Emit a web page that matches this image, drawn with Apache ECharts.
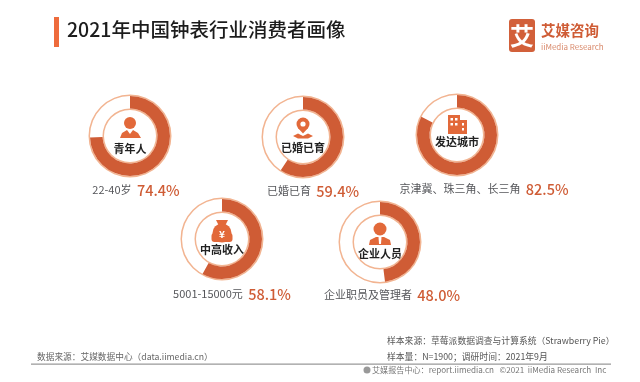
<!DOCTYPE html>
<html><head><meta charset="utf-8">
<script src="https://cdn.jsdelivr.net/npm/echarts@6/dist/echarts.min.js"></script>
<style>html,body{margin:0;padding:0;background:#fff}#c{width:640px;height:382px;filter:blur(0.45px)}</style>
</head><body><div id="c"></div>
<script>
const centerLabels = ['青年人','已婚已育','发达城市','中高收入','企业人员'];
const subLabels = ['22-40岁','已婚已育','京津冀、珠三角、长三角','5001-15000元','企业职员及管理者'];
const shares = [74.4,59.4,82.5,58.1,48.0];
const titleText = '2021年中国钟表行业消费者画像';

const centers = [[130,136],[303,137],[457,135],[222,239],[380,242]];
const centerLabelY = [149,148,142,250,254];
const subPos = [[136,190],[313,191],[484,189],[232,294],[392,295]];
const DARK='#cf5c35', ICON='#e2693a', LIGHT='#f2b491', FONT='"Noto Sans CJK SC","Noto Sans",sans-serif';

const series=[];
shares.forEach((v,i)=>{
  const base={type:'pie',center:centers[i],silent:true,label:{show:false},labelLine:{show:false},startAngle:90,clockwise:true,animation:false};
  series.push({...base,radius:[40,41.5],data:[{value:1,itemStyle:{color:LIGHT}}]});
  series.push({...base,radius:[26,27.5],data:[{value:1,itemStyle:{color:LIGHT}}]});
  series.push({...base,radius:[27.5,40],z:3,data:[{value:v,itemStyle:{color:DARK}},{value:100-v,itemStyle:{color:'rgba(255,255,255,0)'}}]});
});

const t=(x,y,text,size,color,extra={})=>({type:'text',x,y,style:{text,fontSize:size,fill:color,fontFamily:FONT,align:extra.align||'left',verticalAlign:'middle',fontWeight:extra.weight||'normal'}});
const circle=(cx,cy,r,fill)=>({type:'circle',shape:{cx,cy,r},style:{fill}});
const rect=(x,y,width,height,fill,r=0)=>({type:'rect',shape:{x,y,width,height,r},style:{fill}});
const poly=(points,fill)=>({type:'polygon',shape:{points},style:{fill}});

const graphic=[
  rect(54,17,5,30,'#ee6b3c'),
  t(67,30,titleText,19.5,'#1c1c1c',{weight:500}),
  rect(509,19,26,33,'#d2603a',3),
  t(522,36,'艾',24,'#fff',{align:'center',weight:'bold'}),
  t(541,30,'艾媒咨询',14.5,'#cf5c35',{weight:'bold'}),
  t(541,46.5,'iiMedia Research',8,'#d98a6c'),
  // person 1
  circle(130,123,6,ICON),
  poly([[120,138],[122,133],[127,130],[130,134],[133,130],[138,133],[141,138]],ICON),
  // pin
  circle(303,124,6.5,ICON), poly([[297.5,127.5],[308.5,127.5],[303,133.5]],ICON), circle(303,124,2.6,'#fff'),
  poly([[293,136],[298,133.5],[303,136],[308,133.5],[313,136],[308,138.5],[298,138.5]],ICON),
  // buildings
  rect(448,115,12,19,ICON), rect(459,120,8,14,ICON),
  rect(450.5,118,2.5,2.5,'#fff'),rect(455,118,2.5,2.5,'#fff'),rect(450.5,123,2.5,2.5,'#fff'),rect(455,123,2.5,2.5,'#fff'),
  rect(462,123,2,2.5,'#fff'),rect(462,128,2,2.5,'#fff'),
  // money bag
  poly([[216,220],[228,220],[225,226],[219,226]],ICON),
  circle(222,233,9.5,ICON), rect(211.5,233,21,9,ICON,3),
  t(222,234,'¥',10,'#fff',{align:'center',weight:'bold'}),
  // manager
  circle(380,229,6.5,ICON),
  poly([[369,245],[370,240],[376,237],[384,237],[390,240],[391,245]],ICON),
  poly([[378.5,237],[381.5,237],[381,244],[379,244]],'#fff'),
];
centerLabels.forEach((s,i)=>graphic.push(t(centers[i][0],centerLabelY[i],s,11,'#222',{align:'center',weight:'bold'})));
subLabels.forEach((s,i)=>{
  graphic.push({type:'text',x:subPos[i][0],y:subPos[i][1],style:{
    text:'{a|'+s+'}  {b|'+shares[i].toFixed(1)+'%}',align:'center',verticalAlign:'middle',fontFamily:FONT,
    rich:{a:{fontSize:11,fill:'#55565a',fontFamily:FONT},b:{fontSize:14.5,fill:'#cf5c35',fontWeight:500,fontFamily:FONT}}}});
});
graphic.push(
  t(387,341,'样本来源：草莓派数据调查与计算系统（Strawberry Pie）',8.8,'#555'),
  t(387,357,'样本量：N=1900；调研时间：2021年9月',8.8,'#555'),
  t(37,357,'数据来源：艾媒数据中心（data.iimedia.cn）',8.7,'#666'),
  rect(31,363.5,580,1.2,'#999'),
  circle(367,370,3.5,'#999'),
  t(372,370,'艾媒报告中心：report.iimedia.cn   ©2021  iiMedia Research  Inc',8.1,'#777')
);

const chart=echarts.init(document.getElementById('c'),null,{renderer:'canvas'});
chart.setOption({animation:false,backgroundColor:'#fff',tooltip:{show:false},legend:{show:false},series,graphic:{elements:graphic}});
</script></body></html>
